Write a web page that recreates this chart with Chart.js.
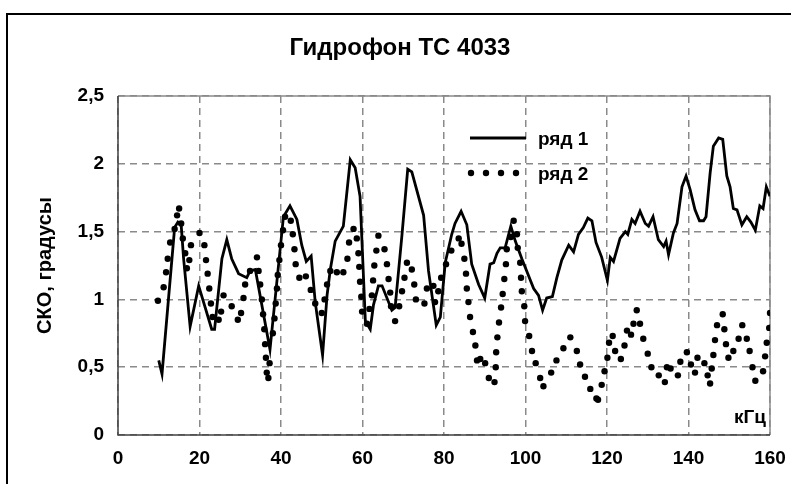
<!DOCTYPE html>
<html><head><meta charset="utf-8">
<script src="https://cdn.jsdelivr.net/npm/chart.js@4/dist/chart.umd.min.js"></script>
<style>html,body{margin:0;padding:0;background:#fff;}#wrap{width:791px;height:484px;}</style>
</head><body><div id="wrap"><canvas id="c" width="791" height="484"></canvas></div>
<script>
const chartTitle = 'Гидрофон ТС 4033';
const yAxisTitle = 'СКО, градусы';
const xUnit = 'кГц';
const seriesNames = ['ряд 1', 'ряд 2'];
const xTickValues = [0, 20, 40, 60, 80, 100, 120, 140, 160];
const yTickValues = [0, 0.5, 1, 1.5, 2, 2.5];

const s1x = [10,10.8,13.9,14.7,15.5,16.1,17.7,19.8,23.0,23.7,25.5,26.7,27.9,29.6,31.6,32.4,33.7,37.3,40.6,42.2,43.9,45.1,46.2,47.4,48.4,50.2,51.3,52.1,53.3,55.3,57.0,58.2,59.4,60.7,61.9,62.7,63.9,64.8,67.2,68.0,69.7,71.1,72.1,75.0,76.2,78.1,79.1,80.3,81.9,82.7,84.2,85.6,86.8,88.5,90.0,91.3,92.2,93.0,93.8,95.0,96.4,97.5,99.1,102.0,103.2,104.2,105.2,106.6,107.7,108.9,110.6,111.8,113.0,114.2,115.3,116.3,117.3,118.7,120.1,120.8,121.6,123.2,124.5,125.1,126.1,126.9,128.1,129.4,130.2,131.3,132.6,133.9,134.5,135.1,136.3,137.2,138.4,139.4,140.4,141.6,142.7,143.7,144.3,145.3,146.1,147.4,148.4,149.4,150.2,151.0,151.9,153.1,154.3,155.3,156.4,157.5,158.3,159.1,160];
const s1y = [0.55,0.45,1.53,1.57,1.55,1.30,0.80,1.10,0.78,0.78,1.30,1.44,1.30,1.19,1.16,1.21,1.22,0.63,1.61,1.69,1.59,1.40,1.28,1.32,0.98,0.59,1.03,1.22,1.43,1.54,2.03,1.97,1.76,0.84,0.78,0.96,1.10,1.10,0.92,0.94,1.48,1.96,1.94,1.62,1.21,0.81,0.87,1.27,1.48,1.56,1.65,1.55,1.26,1.11,1.01,1.26,1.27,1.34,1.38,1.38,1.54,1.43,1.30,1.08,1.03,0.92,1.01,1.02,1.16,1.29,1.40,1.35,1.48,1.53,1.60,1.58,1.42,1.31,1.14,1.31,1.28,1.45,1.50,1.48,1.59,1.56,1.65,1.56,1.54,1.61,1.44,1.39,1.43,1.33,1.49,1.56,1.83,1.91,1.81,1.66,1.58,1.58,1.61,1.93,2.13,2.19,2.18,1.91,1.83,1.67,1.66,1.55,1.61,1.57,1.51,1.69,1.67,1.83,1.76];

const s2x = [9.8,11.2,11.8,12.2,12.8,13.9,14.5,15.0,15.5,15.9,16.5,16.9,17.5,17.9,20.0,21.2,21.6,22.0,22.4,22.8,23.2,24.7,25.3,25.9,27.9,29.4,30.2,30.8,31.2,32.4,34.1,34.5,34.9,35.3,35.6,35.9,36.1,36.3,36.5,36.9,37.2,38.0,38.4,38.7,39.0,39.2,39.6,40.0,40.5,41.0,42.4,42.9,43.3,43.6,44.5,46.1,47.3,48.4,50.0,50.7,51.3,52.1,53.7,55.3,56.3,56.7,57.8,58.6,59.0,59.2,59.4,59.7,59.9,61.1,61.7,62.3,62.6,62.9,63.4,63.9,65.4,66.0,66.4,66.8,67.0,68.0,69.0,69.7,70.3,70.9,72.1,72.7,73.1,75.2,75.8,77.4,77.8,78.6,79.3,80.5,81.8,83.6,84.3,85.0,85.4,85.6,86.0,86.4,87.1,87.7,88.1,88.9,90.1,91.0,92.4,92.7,92.8,93.1,93.5,94.0,94.4,94.8,95.2,95.4,96.4,97.1,97.9,98.1,98.7,98.9,99.1,99.7,99.9,100.9,101.6,102.5,103.6,104.4,106.3,107.6,109.3,111.0,112.6,113.4,114.6,115.9,117.4,117.8,118.7,119.4,120.1,120.5,121.4,122.0,123.4,124.3,124.9,125.9,126.5,127.3,128.1,128.9,130.0,130.9,132.7,134.2,134.7,135.6,137.4,138.0,139.6,140.6,141.6,142.2,143.9,144.7,145.3,145.7,146.1,146.5,147.0,148.4,148.8,149.2,149.8,151.0,152.3,153.2,154.3,155.0,155.7,156.4,158.3,158.8,159.2,159.8,160.0];
const s2y = [0.99,1.09,1.20,1.30,1.42,1.52,1.62,1.67,1.56,1.45,1.34,1.23,1.29,1.40,1.49,1.40,1.29,1.19,1.08,0.97,0.87,0.85,0.91,1.03,0.95,0.85,0.90,1.01,1.11,1.21,1.31,1.21,1.11,1.00,0.89,0.78,0.67,0.57,0.46,0.42,0.53,0.75,0.86,0.97,1.08,1.18,1.29,1.40,1.51,1.61,1.58,1.48,1.37,1.26,1.16,1.17,1.07,0.97,0.90,1.00,1.11,1.21,1.20,1.20,1.30,1.42,1.52,1.45,1.34,1.24,1.13,1.02,0.91,0.82,0.93,1.03,1.14,1.25,1.36,1.47,1.37,1.26,1.15,1.05,0.95,0.84,0.95,1.06,1.16,1.27,1.22,1.11,1.00,0.97,1.08,1.10,0.98,1.06,1.16,1.26,1.36,1.45,1.41,1.30,1.19,1.08,0.98,0.87,0.76,0.66,0.55,0.56,0.53,0.42,0.39,0.50,0.61,0.72,0.83,0.94,1.04,1.15,1.26,1.37,1.46,1.58,1.48,1.38,1.27,1.16,1.06,0.95,0.84,0.73,0.62,0.53,0.42,0.36,0.46,0.55,0.64,0.72,0.62,0.52,0.43,0.34,0.27,0.26,0.37,0.47,0.57,0.68,0.73,0.62,0.56,0.66,0.77,0.74,0.82,0.92,0.82,0.71,0.60,0.50,0.44,0.39,0.50,0.49,0.44,0.54,0.61,0.52,0.46,0.57,0.53,0.44,0.38,0.49,0.59,0.70,0.81,0.89,0.78,0.67,0.57,0.62,0.71,0.81,0.71,0.62,0.50,0.40,0.47,0.58,0.68,0.79,0.90];

const FONT = '"Liberation Sans Narrow", "Arial Narrow", "Liberation Sans", Arial, sans-serif';
const fmt = v => String(v).replace('.', ',');

const decor = {
  id: 'decor',
  beforeDatasetsDraw(chart) {
    const {ctx, chartArea: a} = chart;
    ctx.save();
    ctx.setLineDash([]);
    ctx.strokeStyle = '#8a8a8a';
    ctx.lineWidth = 1.5;
    ctx.beginPath();
    ctx.moveTo(a.left, a.top); ctx.lineTo(a.right, a.top); ctx.lineTo(a.right, a.bottom);
    ctx.stroke();
    ctx.strokeStyle = '#404040';
    ctx.beginPath();
    ctx.moveTo(a.left, a.top); ctx.lineTo(a.left, a.bottom); ctx.lineTo(a.right, a.bottom);
    ctx.stroke();
    ctx.restore();
  },
  afterDraw(chart) {
    const {ctx, chartArea: a} = chart;
    ctx.save();
    ctx.strokeStyle = '#000';
    ctx.lineWidth = 2;
    ctx.strokeRect(7, 14, 900, 600);
    ctx.fillStyle = '#000';
    ctx.textBaseline = 'middle';
    ctx.textAlign = 'center';
    ctx.font = 'bold 24px ' + FONT;
    ctx.fillText(chartTitle, 400, 48);
    ctx.save();
    ctx.translate(45, (a.top + a.bottom) / 2);
    ctx.rotate(-Math.PI / 2);
    ctx.font = 'bold 20px ' + FONT;
    ctx.fillText(yAxisTitle, 0, 0);
    ctx.restore();
    ctx.font = 'bold 19px ' + FONT;
    ctx.textAlign = 'right';
    ctx.fillText(xUnit, a.right - 4, a.bottom - 17);
    ctx.textAlign = 'left';
    ctx.lineWidth = 3;
    ctx.beginPath(); ctx.moveTo(470, 138); ctx.lineTo(526, 138); ctx.stroke();
    [471, 486, 501, 516].forEach(x => { ctx.beginPath(); ctx.arc(x, 173, 3.2, 0, Math.PI * 2); ctx.fill(); });
    ctx.fillText(seriesNames[0], 538, 140);
    ctx.fillText(seriesNames[1], 538, 175);
    ctx.restore();
  }
};

new Chart(document.getElementById('c'), {
  type: 'line',
  data: {
    datasets: [
      { label: seriesNames[0], data: s1x.map((x, i) => ({x, y: s1y[i]})), borderColor: '#000', borderWidth: 2.8, pointRadius: 0, tension: 0, fill: false },
      { label: seriesNames[1], data: s2x.map((x, i) => ({x, y: s2y[i]})), showLine: false, pointRadius: 3.2, pointBackgroundColor: '#000', pointBorderWidth: 0, borderColor: '#000' }
    ]
  },
  options: {
    responsive: false, animation: false, devicePixelRatio: 1,
    layout: { padding: { top: 96, right: 21, left: 0, bottom: 0 } },
    plugins: { legend: { display: false }, title: { display: false }, tooltip: { enabled: false } },
    scales: {
      x: {
        type: 'linear', min: 0, max: 160,
        afterBuildTicks: s => { s.ticks = xTickValues.map(v => ({value: v})); },
        afterFit: s => { s.height = 49; s.paddingRight = 0; s.paddingLeft = 0; },
        grid: { color: '#8a8a8a', lineWidth: 1.5, drawTicks: false },
        border: { display: false, dash: [7, 5] },
        ticks: { padding: 12, color: '#000', font: { family: FONT, size: 19, weight: 'bold' }, callback: fmt, maxRotation: 0 }
      },
      y: {
        type: 'linear', min: 0, max: 2.5,
        afterBuildTicks: s => { s.ticks = yTickValues.map(v => ({value: v})); },
        afterFit: s => { s.width = 118; s.paddingTop = 0; s.paddingBottom = 0; },
        grid: { color: '#8a8a8a', lineWidth: 1.5, drawTicks: false },
        border: { display: false, dash: [7, 5] },
        ticks: { padding: 14, color: '#000', font: { family: FONT, size: 19, weight: 'bold' }, callback: fmt }
      }
    }
  },
  plugins: [decor]
});
</script></body></html>
